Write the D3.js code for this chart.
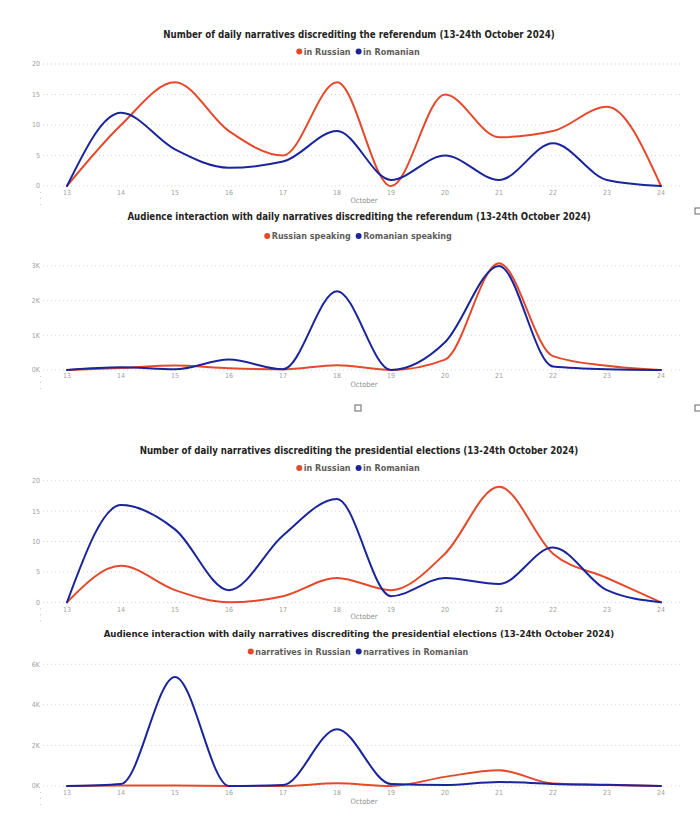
<!DOCTYPE html>
<html><head><meta charset="utf-8">
<script src="https://cdn.jsdelivr.net/npm/d3@7"></script>
<style>
body{margin:0;background:#fff;}
svg{display:block;}
</style></head>
<body>
<svg id="c" width="700" height="830"></svg>
<script>
const days = [13,14,15,16,17,18,19,20,21,22,23,24];

const refCountRussian   = [0,10,17,9,5,17,0,15,8,9,13,0];
const refCountRomanian  = [0,12,6,3,4,9,1,5,1,7,1,0];

const refInterRussian   = [0,60,130,50,20,140,0,300,3080,400,120,0];
const refInterRomanian  = [0,80,20,300,20,2270,0,800,3000,100,20,0];

const presCountRussian  = [0,6,2,0,1,4,2,8,19,8,4,0];
const presCountRomanian = [0,16,12,2,11,17,1,4,3,9,2,0];

const presInterRussian  = [0,20,20,0,0,130,0,450,780,120,50,0];
const presInterRomanian = [0,100,5380,0,50,2800,100,50,200,100,60,0];

const titles = [
  "Number of daily narratives discrediting the referendum (13-24th October 2024)",
  "Audience interaction with daily narratives discrediting the referendum (13-24th October 2024)",
  "Number of daily narratives discrediting the presidential elections (13-24th October 2024)",
  "Audience interaction with daily narratives discrediting the presidential elections (13-24th October 2024)"
];
const legends = [
  ["in Russian","in Romanian"],
  ["Russian speaking","Romanian speaking"],
  ["in Russian","in Romanian"],
  ["narratives in Russian","narratives in Romanian"]
];
const yTicks = [
  [0,5,10,15,20],
  [0,1000,2000,3000],
  [0,5,10,15,20],
  [0,2000,4000,6000]
];
const xAxisTitle = "October";

const RED = "#E5492C", BLUE = "#1A259C";

const panels = [
  {title:titles[0], tw:392, ty:34.5, ly:51.5, legend:legends[0], lw:120,
   y0:186, y1:64, dom:[0,20], ticks:yTicks[0], fmt:d=>d, series:[refCountRussian, refCountRomanian], xl:193, xt:200.5},
  {title:titles[1], tw:464, ty:217, ly:236, legend:legends[1], lw:184,
   y0:370, y1:266, dom:[0,3000], ticks:yTicks[1], fmt:d=>(d/1000)+"K", series:[refInterRussian, refInterRomanian], xl:375.5, xt:384},
  {title:titles[2], tw:439, ty:451, ly:468, legend:legends[2], lw:120,
   y0:602.3, y1:480.7, dom:[0,20], ticks:yTicks[2], fmt:d=>d, series:[presCountRussian, presCountRomanian], xl:609.5, xt:616.5},
  {title:titles[3], tw:511, ty:634, ly:651.5, legend:legends[3], lw:217,
   y0:786, y1:664.3, dom:[0,6000], ticks:yTicks[3], fmt:d=>(d/1000)+"K", series:[presInterRussian, presInterRomanian], xl:793, xt:801}
];

const svg = d3.select("#c");
const FONT = "'Liberation Sans Narrow','DejaVu Sans Condensed','Liberation Sans',sans-serif";
const x = d3.scalePoint().domain(days).range([67,661]);

panels.forEach((p) => {
  const g = svg.append("g");
  const y = d3.scaleLinear().domain(p.dom).range([p.y0, p.y1]);

  // title, font size fitted to the reference width
  const tt = g.append("text").attr("x",359).attr("y",p.ty).attr("dy","0.35em")
    .attr("text-anchor","middle").attr("font-family",FONT).attr("font-weight","bold")
    .attr("font-size",13).attr("fill","#252423")
    .text(p.title);
  const nat = tt.node().getComputedTextLength();
  tt.attr("font-size", Math.min(14, 13 * p.tw / nat));

  // legend
  const lg = g.append("g");
  let fs = 11;
  const measure = () => {
    let w = 0;
    p.legend.forEach((name) => {
      const t = lg.append("text").attr("font-family",FONT).attr("font-weight","bold")
        .attr("font-size",fs).text(name);
      w += 7.5 + t.node().getComputedTextLength() + 5;
      t.remove();
    });
    return w - 5;
  };
  fs = Math.min(12, 11 * p.lw / measure());
  let cx = 0;
  p.legend.forEach((name,i) => {
    lg.append("circle").attr("cx",cx+3).attr("cy",p.ly).attr("r",3).attr("fill", i===0?RED:BLUE);
    const t = lg.append("text").attr("x",cx+7.5).attr("y",p.ly).attr("dy","0.35em")
      .attr("font-family",FONT).attr("font-weight","bold").attr("font-size",fs)
      .attr("fill","#605E5C").text(name);
    cx += 7.5 + t.node().getComputedTextLength() + 5;
  });
  const totalW = cx - 5;
  lg.attr("transform", `translate(${358 - totalW/2},0)`);

  // gridlines
  g.append("g").selectAll("line").data(p.ticks).join("line")
    .attr("x1",43).attr("x2",683).attr("y1",d=>y(d)).attr("y2",d=>y(d))
    .attr("stroke","#c8c8c8").attr("stroke-width",0.8).attr("stroke-dasharray","1,3");

  // y tick labels
  g.append("g").selectAll("text").data(p.ticks).join("text")
    .attr("x",40).attr("y",d=>y(d)).attr("dy","0.35em").attr("text-anchor","end")
    .attr("font-family",FONT).attr("font-size",7).attr("fill","#a0a0a0")
    .text(p.fmt);

  // small dotted mark below axis
  g.append("line").attr("x1",40.5).attr("x2",40.5).attr("y1",p.y0+6).attr("y2",p.y0+19)
    .attr("stroke","#bbb").attr("stroke-width",0.8).attr("stroke-dasharray","1,5");

  // x tick labels
  g.append("g").selectAll("text").data(days).join("text")
    .attr("x",d=>x(d)).attr("y",p.xl).attr("dy","0.35em").attr("text-anchor","middle")
    .attr("font-family",FONT).attr("font-size",7).attr("fill","#a0a0a0")
    .text(d=>d);

  g.append("text").attr("x",364).attr("y",p.xt).attr("dy","0.35em").attr("text-anchor","middle")
    .attr("font-family",FONT).attr("font-size",7.5).attr("fill","#909090").text(xAxisTitle);

  // lines
  const line = d3.line().x((d,i)=>x(days[i])).y(d=>y(d)).curve(d3.curveMonotoneX);
  p.series.forEach((s,i) => {
    g.append("path").datum(s).attr("d",line).attr("fill","none")
      .attr("stroke", i===0?RED:BLUE).attr("stroke-width",2)
      .attr("stroke-linejoin","round").attr("stroke-linecap","round");
  });
});

// decorative selection handles
const handles = [[695,208],[355,405],[695,405]];
svg.append("g").selectAll("rect").data(handles).join("rect")
  .attr("x",d=>d[0]).attr("y",d=>d[1]).attr("width",6).attr("height",6)
  .attr("fill","#fff").attr("stroke","#666").attr("stroke-width",1);
</script>
</body></html>
